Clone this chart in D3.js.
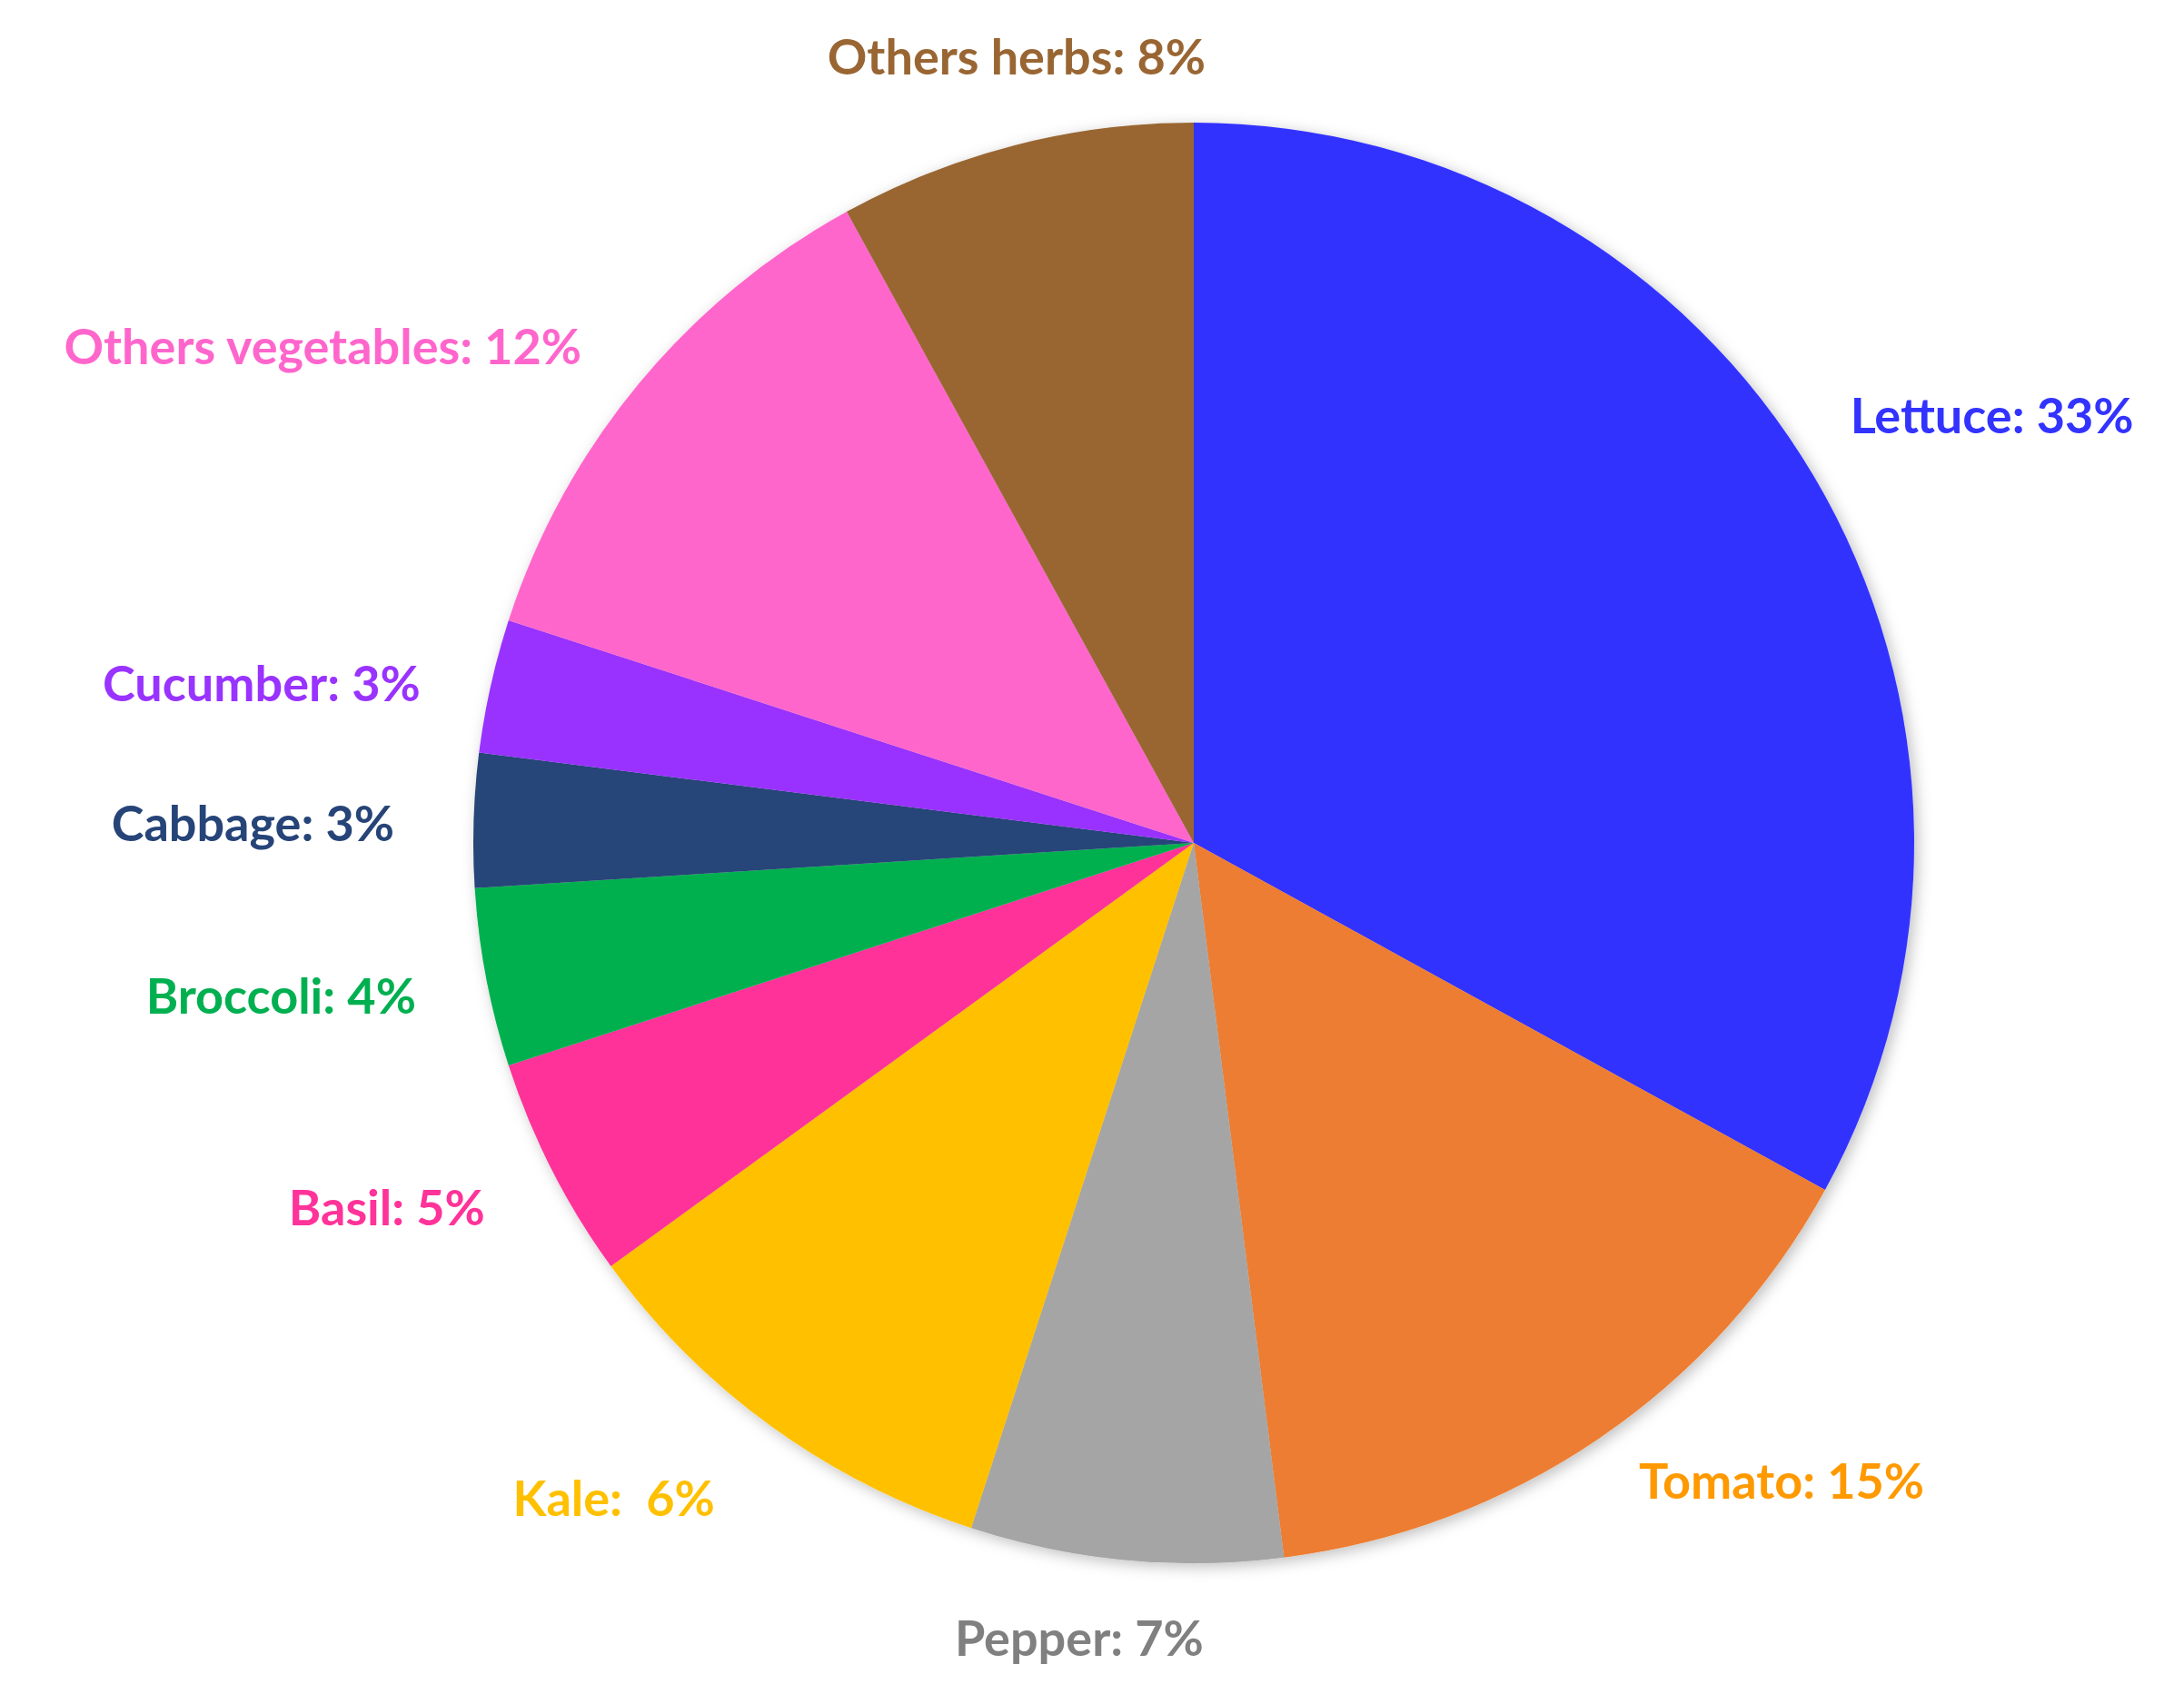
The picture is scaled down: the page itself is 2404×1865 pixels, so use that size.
<!DOCTYPE html>
<html><head><meta charset="utf-8">
<script src="https://cdn.jsdelivr.net/npm/d3@7"></script>
<style>body{margin:0;background:#fff}</style></head>
<body><svg id="c" width="2404" height="1865"></svg>
<script>
const categories = ["Lettuce","Tomato","Pepper","Kale","Basil","Broccoli","Cabbage","Cucumber","Others vegetables","Others herbs"];
const values = [33,15,7,10,5,4,3,3,12,8];
const labels = ["Lettuce: 33%","Tomato: 15%","Pepper: 7%","Kale:  6%","Basil: 5%","Broccoli: 4%","Cabbage: 3%","Cucumber: 3%","Others vegetables: 12%","Others herbs: 8%"];
const colors = ["#3333FF","#ED7D31","#A5A5A5","#FFC000","#FF3399","#00B050","#264478","#9933FF","#FF66CC","#996633"];
const labelColors = ["#3333FF","#FF9900","#808080","#FFC000","#FF3399","#00B050","#264478","#9933FF","#FF66CC","#996633"];
// label centres relative to pie centre, in units of radius
const labelPos = [[1.108,-0.594],[0.816,0.884],[-0.159,1.103],[-0.805,0.909],[-1.120,0.505],[-1.267,0.211],[-1.306,-0.029],[-1.294,-0.222],[-1.209,-0.691],[-0.246,-1.093]];

const svg = d3.select("#c");
const cx = 1314, cy = 928, R = 793;
const defs = svg.append("defs");
const f = defs.append("filter").attr("id","sh").attr("x","-10%").attr("y","-10%").attr("width","120%").attr("height","120%");
f.append("feDropShadow").attr("dx",4).attr("dy",4).attr("stdDeviation",8).attr("flood-color","#000").attr("flood-opacity",0.25);
const g = svg.append("g").attr("transform",`translate(${cx},${cy})`);
const pie = d3.pie().sort(null).value(d=>d)(values);
const arc = d3.arc().innerRadius(0).outerRadius(R);
g.append("g").attr("filter","url(#sh)").selectAll("path").data(pie).join("path")
  .attr("d",arc).attr("fill",(d,i)=>colors[i]);
g.selectAll("text").data(labels).join("text")
  .attr("x",(d,i)=>labelPos[i][0]*R).attr("y",(d,i)=>labelPos[i][1]*R)
  .attr("text-anchor","middle").attr("dominant-baseline","central")
  .attr("font-family","Lato, 'Open Sans', sans-serif").attr("font-weight","bold")
  .attr("font-size",54).attr("fill",(d,i)=>labelColors[i]).style("white-space","pre")
  .text(d=>d);
</script></body></html>
